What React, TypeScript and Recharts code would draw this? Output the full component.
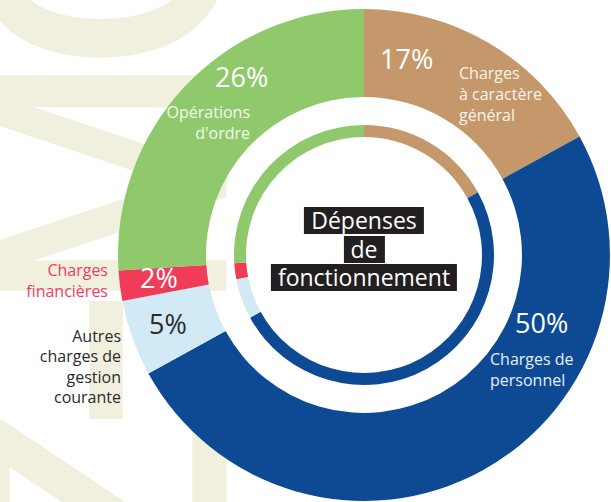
import { PieChart, Pie, Cell } from 'recharts';

// slices clockwise from 12 o'clock
const categories = [
  'Charges à caractère général',
  'Charges de personnel',
  'Autres charges de gestion courante',
  'Charges financières',
  "Opérations d'ordre",
];
const values = [17, 50, 5, 2, 26];
const nameLines = [
  ['Charges', 'à caractère', 'général'],
  ['Charges de', 'personnel'],
  ['Autres', 'charges de', 'gestion', 'courante'],
  ['Charges', 'financières'],
  ['Opérations', "d'ordre"],
];
const centerLines = ['Dépenses', 'de', 'fonctionnement'];
const watermarkLetters = ['Z', '-', 'M', 'O'];

const colors = ['#c4986a', '#0e4a94', '#d2eaf6', '#ef3d59', '#8fc96c'];
const pctColors = ['#ffffff', '#ffffff', '#2b2b2b', '#ffffff', '#ffffff'];
const nameColors = ['#fbf3ea', '#e6eef8', '#2b2b2b', '#ee3d67', '#f3faee'];

const data = categories.map((name, i) => ({ name, value: values[i] }));

const W = 611;
const H = 502;
const CX = 364;
const CY = 255;
const FONT = "'Open Sans', 'Noto Sans', sans-serif";

// label placement relative to the pie centre
const labelLayout = [
  { pct: [16, -186, 'start'], name: [95, -176, 'start'], lh: 21 },
  { pct: [151, 78, 'start'], name: [126, 110, 'start'], lh: 21 },
  { pct: [-215, 79, 'start'], name: [-243, 87, 'end'], lh: 20.3 },
  { pct: [-224, 33, 'start'], name: [-256, 21, 'end'], lh: 21 },
  { pct: [-149, -168, 'start'], name: [-114, -137, 'end'], lh: 21 },
];

// big rotated watermark letters behind the chart
const watermarkY = [505, 360, 183, -58];
const watermarkBase = [222, 197, 222, 222];
const watermarkScale = [1, 1.3, 0.87, 1];

const renderLabel = (props: any) => {
  const { cx, cy, index, value } = props;
  const l = labelLayout[index];
  return (
    <g key={`lbl-${index}`} style={{ fontFamily: FONT }}>
      <text
        x={cx + (l.pct[0] as number)}
        y={cy + (l.pct[1] as number)}
        textAnchor={l.pct[2] as any}
        fill={pctColors[index]}
        fontSize={27}
      >
        {`${value}%`}
      </text>
      <text
        x={cx + (l.name[0] as number)}
        y={cy + (l.name[1] as number)}
        textAnchor={l.name[2] as any}
        fill={nameColors[index]}
        fontSize={16}
      >
        {nameLines[index].map((line, j) => (
          <tspan key={j} x={cx + (l.name[0] as number)} dy={j === 0 ? 0 : l.lh}>
            {line}
          </tspan>
        ))}
      </text>
    </g>
  );
};

export default function App() {
  return (
    <div style={{ position: 'absolute', left: 0, top: 0, width: W, height: H, background: '#fff', overflow: 'hidden' }}>
      <svg width={W} height={H} style={{ position: 'absolute', left: 0, top: 0 }}>
        {watermarkLetters.map((ch, i) => (
          <text
            key={i}
            transform={`translate(${watermarkBase[i]}, ${watermarkY[i]}) rotate(-90) scale(${watermarkScale[i]}, 1)`}
            textAnchor="middle"
            fontFamily={FONT}
            fontSize={339}
            fill="#f1efdd"
            stroke="#f1efdd"
            strokeWidth={9}
          >
            {ch}
          </text>
        ))}
      </svg>
      <div style={{ position: 'absolute', left: 0, top: 0 }}>
        <PieChart width={W} height={H} margin={{ top: 0, right: 0, bottom: 0, left: 0 }}>
          <Pie
            data={data}
            dataKey="value"
            cx={CX}
            cy={CY}
            innerRadius={158}
            outerRadius={246}
            startAngle={90}
            endAngle={-270}
            stroke="none"
            label={renderLabel}
            labelLine={false}
            isAnimationActive={false}
          >
            {data.map((d, i) => (
              <Cell key={d.name} fill={colors[i]} />
            ))}
          </Pie>
          <Pie
            data={data}
            dataKey="value"
            cx={CX}
            cy={CY}
            innerRadius={118}
            outerRadius={130}
            startAngle={90}
            endAngle={-270}
            stroke="none"
            isAnimationActive={false}
          >
            {data.map((d, i) => (
              <Cell key={d.name} fill={colors[i]} />
            ))}
          </Pie>
        </PieChart>
      </div>
      <div
        style={{
          position: 'absolute',
          left: CX,
          top: CY - 6,
          transform: 'translate(-50%, -50%)',
          display: 'flex',
          flexDirection: 'column',
          alignItems: 'center',
          gap: 1.5,
          fontFamily: FONT,
          fontSize: 23,
          fontWeight: 500,
          color: '#fff',
          whiteSpace: 'nowrap',
        }}
      >
        {centerLines.map((line) => (
          <span key={line} style={{ background: '#231f20', padding: '0 7px', lineHeight: '27px', height: 27 }}>
            {line}
          </span>
        ))}
      </div>
    </div>
  );
}
